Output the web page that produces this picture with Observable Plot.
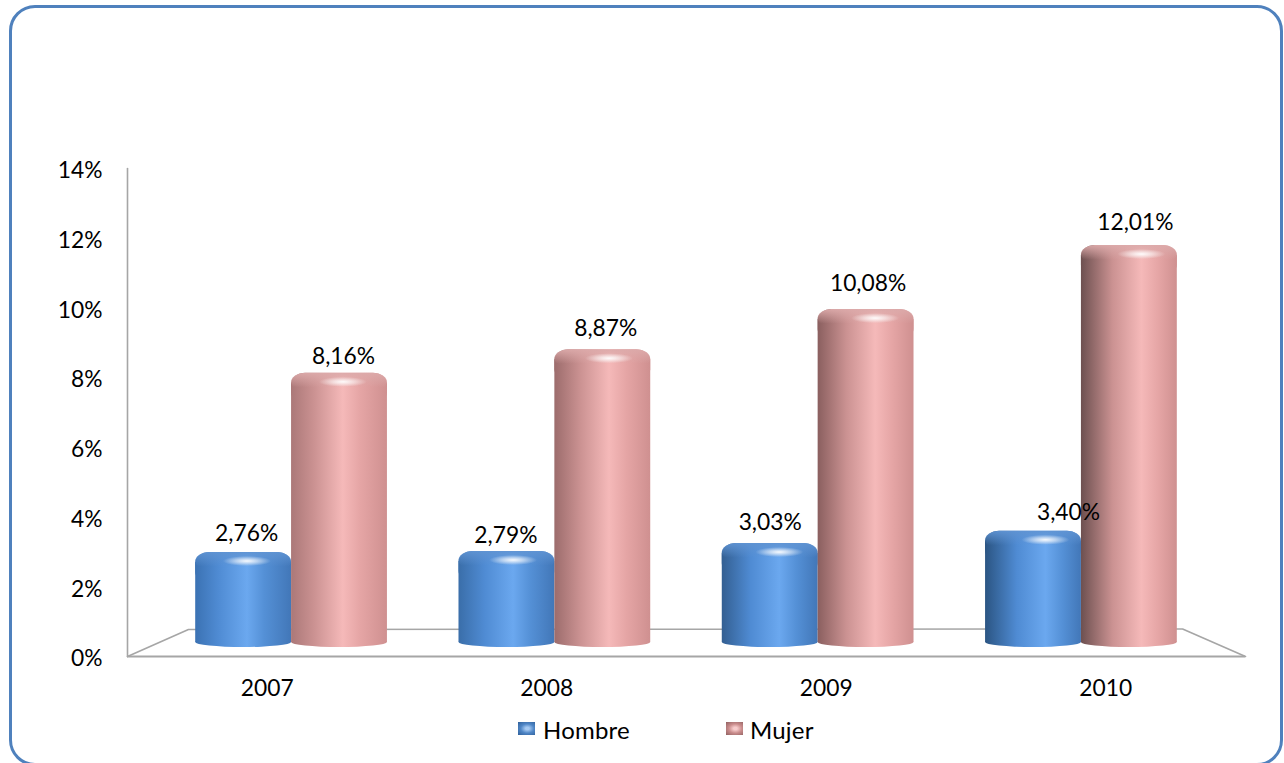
<!DOCTYPE html>
<html lang="es">
<head>
<meta charset="utf-8">
<script src="https://cdn.jsdelivr.net/npm/d3@7"></script>
<script src="https://cdn.jsdelivr.net/npm/@observablehq/plot@0.6"></script>
<style>
html,body{margin:0;padding:0;background:#fff;width:1284px;height:763px;overflow:hidden}
#wrap{position:relative;width:1284px;height:763px;overflow:hidden;font-family:Lato,"Open Sans",sans-serif;color:#000}
#frame{position:absolute;left:9px;top:5px;width:1274px;height:761px;box-sizing:border-box;border:3.5px solid #4f81bd;border-radius:26px;pointer-events:none}
#chart svg{display:block;position:absolute;left:0;top:0}
.lg{position:absolute;font-size:24px;line-height:26px;top:717px;letter-spacing:.2px}
.sw{position:absolute;top:722px;width:17px;height:13px}
</style>
</head>
<body>
<div id="wrap">
  <div id="chart"></div>
  <div id="frame"></div>
  <div class="sw" style="left:518px;background:radial-gradient(ellipse at 55% 50%,#a5c9f2 0 14%,#4f86c6 50%,#2f5f99 100%)"></div>
  <div class="lg" style="left:543px">Hombre</div>
  <div class="sw" style="left:726px;background:radial-gradient(ellipse at 55% 50%,#f7cccc 0 14%,#c98c8c 50%,#8f6060 100%)"></div>
  <div class="lg" style="left:750px">Mujer</div>
</div>
<script>
const years = ["2007", "2008", "2009", "2010"];
const hombre = [2.76, 2.79, 3.03, 3.40];
const mujer = [8.16, 8.87, 10.08, 12.01];
const yTicks = [0, 2, 4, 6, 8, 10, 12, 14];

// Oblique projection of the 3D floor, in axis units
const floorX = [0, 0.218, 3.775, 4];
const floorY = [0, 0.775, 0.79, 0];
const wallX = [0, 0];
const wallY = [0, 14];
const spread = 0.942, barWidth = 0.343, depth = 0.952, lift = 0.356, barBase = 0.258;
const unitsPerPx = 14 / 488;
const xUnitsPerPx = 4 / 1118;

// Label nudges in px
const hombreNudge = [[3, -19], [-1, -16], [0, -21], [35, -19]];
const mujerNudge = [[4, -17], [3, -21], [2, -26], [6, -23]];

const barCenter = (i, side) => 2 + (i + 0.5 - 2) * spread + side * barWidth / 2;
const top_ = v => lift + v * depth;
const hiPos = i => 54 + i * 3;

const palettes = {
  h: {left: ["#3b72b3", "#3a6ea9", "#335f92", "#2b5583"], mid: "#4f8bd3", hi: "#6ba8ef", after: "#5490d6", edge: "#4277b8", rim: "#5f93d2"},
  m: {left: ["#ab7878", "#9c6c6c", "#8a5f5f", "#6d5050"], mid: "#cb9292", hi: "#f5b9b9", after: "#e5a5a5", edge: "#cf9090", rim: "#dcaaaa"}
};

function defs() {
  const svgNS = "http://www.w3.org/2000/svg";
  const d = document.createElementNS(svgNS, "defs");
  let html = "";
  for (const k of ["h", "m"]) {
    const p = palettes[k];
    years.forEach((_, i) => {
      const c = hiPos(i);
      html += `<linearGradient id="g${k}${i}" x1="0" x2="1" y1="0" y2="0">
        <stop offset="0%" stop-color="${p.left[i]}"/>
        <stop offset="${c - 30}%" stop-color="${p.mid}"/>
        <stop offset="${c}%" stop-color="${p.hi}"/>
        <stop offset="${c + 18}%" stop-color="${p.after}"/>
        <stop offset="100%" stop-color="${p.edge}"/>
      </linearGradient>`;
    });
    html += `<linearGradient id="rim${k}" x1="0" x2="0" y1="0" y2="1">
      <stop offset="0%" stop-color="${p.rim}" stop-opacity="0.95"/>
      <stop offset="30%" stop-color="${p.rim}" stop-opacity="0.6"/>
      <stop offset="80%" stop-color="${p.rim}" stop-opacity="0"/>
    </linearGradient>`;
  }
  html += `<radialGradient id="shine" cx="50%" cy="50%" r="50%">
    <stop offset="0%" stop-color="#fff" stop-opacity="0.95"/>
    <stop offset="45%" stop-color="#fff" stop-opacity="0.55"/>
    <stop offset="100%" stop-color="#fff" stop-opacity="0"/>
  </radialGradient>`;
  d.innerHTML = html;
  return d;
}

function cylinder(values, key, side) {
  return values.flatMap((v, i) => {
    const x1 = barCenter(i, side) - barWidth / 2, x2 = barCenter(i, side) + barWidth / 2;
    const t = top_(v);
    const py = unitsPerPx;
    const row = [{x1, x2}];
    const fill = `url(#g${key}${i})`;
    const shineAt = x1 + barWidth * hiPos(i) / 100;
    const shineHalf = 24 * xUnitsPerPx;
    return [
      Plot.rect(row, {x1: "x1", x2: "x2", y1: t - 30 * py, y2: t, fill, rx: 14, ry: 10}),
      Plot.rect(row, {x1: "x1", x2: "x2", y1: barBase + 5 * py, y2: t - 10 * py, fill}),
      Plot.rect(row, {x1: "x1", x2: "x2", y1: barBase, y2: barBase + 10 * py, fill, rx: 48, ry: 5}),
      Plot.rect(row, {x1: "x1", x2: "x2", y1: t - 18 * py, y2: t, fill: `url(#rim${key})`, rx: 14, ry: 10}),
      Plot.rect([0], {x1: shineAt - shineHalf, x2: shineAt + shineHalf, y1: t - 14 * py, y2: t - 4 * py, fill: "url(#shine)"})
    ];
  });
}

function labels(values, nudge, side) {
  return values.map((v, i) => Plot.text([v], {
    x: barCenter(i, side),
    y: top_(v),
    text: d => d.toFixed(2).replace(".", ",") + "%",
    dx: nudge[i][0],
    dy: nudge[i][1],
    fontSize: 22.8,
    fill: "#000"
  }));
}

const chart = Plot.plot({
  width: 1284,
  height: 763,
  marginLeft: 127,
  marginRight: 39,
  marginTop: 168,
  marginBottom: 107,
  style: {background: "transparent", fontFamily: "Lato, 'Open Sans', sans-serif", overflow: "visible"},
  x: {domain: [0, 4], axis: null},
  y: {domain: [0, 14], axis: null},
  marks: [
    defs,
    Plot.line(wallX.map((x, i) => [x, wallY[i]]), {x: d => d[0], y: d => d[1], stroke: "#a6a6a6", strokeWidth: 1.6}),
    Plot.line(floorX.map((x, i) => [x, floorY[i]]), {x: d => d[0], y: d => d[1], stroke: "#a6a6a6", strokeWidth: 1.6}),
    Plot.ruleY([0], {stroke: "#a6a6a6", strokeWidth: 1.8}),
    Plot.axisY(yTicks, {
      anchor: "left", tickSize: 0, tickPadding: 25, label: null, dy: 2.5,
      tickFormat: d => d + "%", fontSize: 22.8, fill: "#000"
    }),
    Plot.axisX(years.map((_, i) => i + 0.5), {
      anchor: "bottom", tickSize: 0, tickPadding: 23, label: null,
      tickFormat: d => years[d - 0.5], fontSize: 22.8, fill: "#000"
    }),
    ...cylinder(hombre, "h", -1),
    ...cylinder(mujer, "m", 1),
    ...labels(hombre, hombreNudge, -1),
    ...labels(mujer, mujerNudge, 1)
  ]
});
document.getElementById("chart").append(chart);
</script>
</body>
</html>
